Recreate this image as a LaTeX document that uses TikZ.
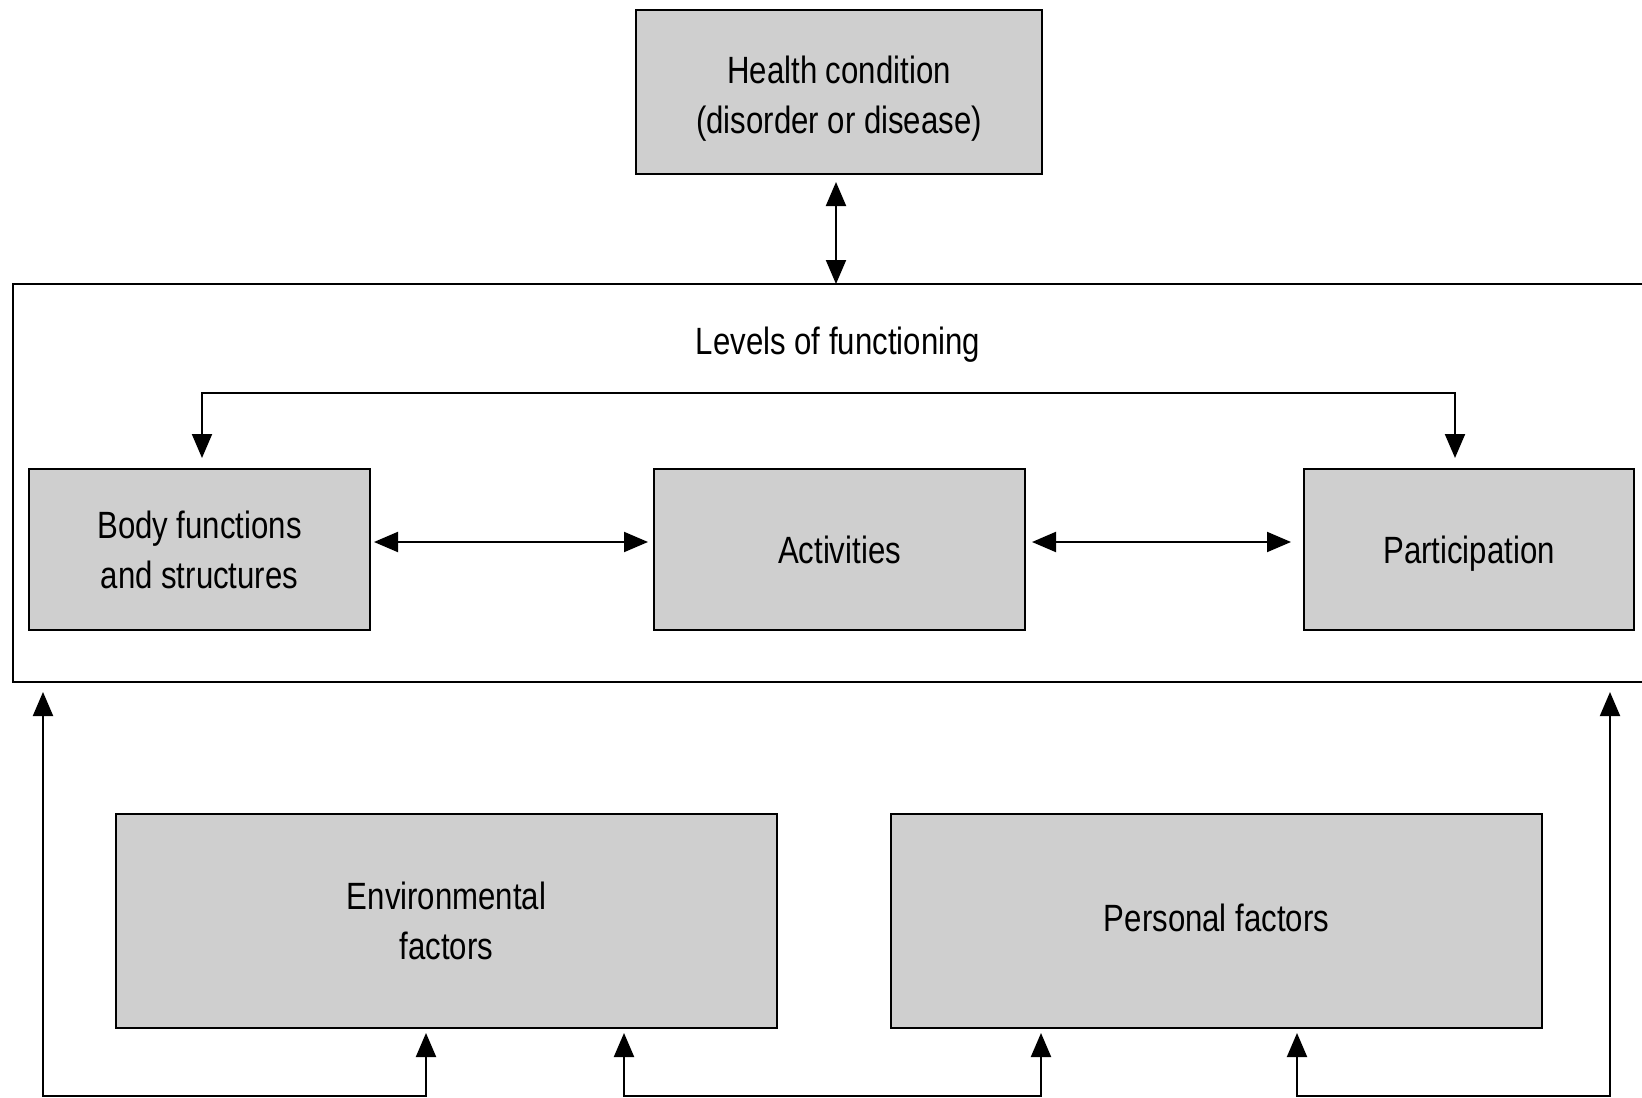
\documentclass[tikz,border=0pt]{standalone}
\usepackage{fontspec}
\setmainfont[FakeStretch=0.82]{Liberation Sans}
\usetikzlibrary{arrows.meta}
\definecolor{boxgray}{HTML}{CFCFCF}
\tikzset{
  gbox/.style={draw=black, line width=2pt, fill=boxgray, inner sep=0pt, align=center,
    font=\fontsize{38}{50}\selectfont},
  conn/.style={line width=2pt, {Triangle[length=24pt,width=20pt]}-{Triangle[length=24pt,width=20pt]}},
  frame/.style={draw=black, line width=2pt}
}
\begin{document}
\begin{tikzpicture}[x=1pt,y=-1pt]
\useasboundingbox (0,0) rectangle (1642,1098);
% outer frame (right edge runs off the picture)
\draw[frame] (1642,284) -- (13,284) -- (13,682) -- (1642,682);
\node[font=\fontsize{38}{50}\selectfont] (levels) at (838,345) {Levels of functioning};
% boxes
\node[gbox, minimum width=406pt, minimum height=164pt,
  label={[font=\fontsize{38}{50}\selectfont, align=center, yshift=-7pt]center:Health condition\\(disorder or disease)}] (health) at (839,92) {};
\node[gbox, minimum width=341pt, minimum height=161pt] (body) at (199.5,549.5) {Body functions\\and structures};
\node[gbox, minimum width=371pt, minimum height=161pt] (act) at (839.5,549.5) {Activities};
\node[gbox, minimum width=330pt, minimum height=161pt, text depth=0pt] (part) at (1469,549.5) {Participation};
\node[gbox, minimum width=661pt, minimum height=214pt] (env) at (446.5,921) {Environmental\\factors};
\node[gbox, minimum width=651pt, minimum height=214pt,
  label={[font=\fontsize{38}{50}\selectfont, yshift=3pt]center:Personal factors}] (pers) at (1216.5,921) {};
% coordinates
\coordinate (htop) at (836,182);
\coordinate (hbot) at (836,284);
\coordinate (bl) at (374,542);
\coordinate (al) at (648,542);
\coordinate (ar) at (1032,542);
\coordinate (pl) at (1291,542);
\coordinate (bk1) at (202,458);
\coordinate (bk2) at (1455,458);
\coordinate (fl) at (43,692);
\coordinate (fr) at (1610,692);
\coordinate (e1) at (426,1033);
\coordinate (e2) at (624,1033);
\coordinate (p1) at (1041,1033);
\coordinate (p2) at (1297,1033);
% connectors
\draw[conn] (htop) -- (hbot);
\draw[conn] (bl) -- (al);
\draw[conn] (ar) -- (pl);
\draw[conn] (bk1) -- (202,393) -- (1455,393) -- (bk2);
\draw[conn] (fl) -- (43,1096) -- (426,1096) -- (e1);
\draw[conn] (e2) -- (624,1096) -- (1041,1096) -- (p1);
\draw[conn] (p2) -- (1297,1096) -- (1610,1096) -- (fr);
\end{tikzpicture}
\end{document}
